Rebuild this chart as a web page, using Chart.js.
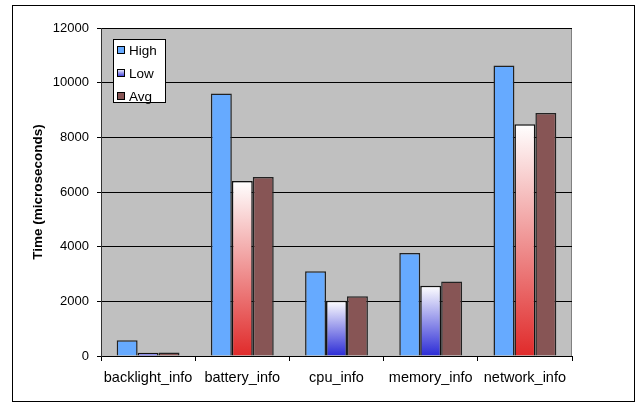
<!DOCTYPE html>
<html>
<head>
<meta charset="utf-8">
<script src="https://cdn.jsdelivr.net/npm/chart.js@4.4.1/dist/chart.umd.min.js"></script>
<style>
  html, body { margin: 0; padding: 0; background: #fff; }
  canvas { display: block; }
</style>
</head>
<body>
<canvas id="chart" width="638" height="404"></canvas>
<script>
const categories = ['backlight_info', 'battery_info', 'cpu_info', 'memory_info', 'network_info'];
const highValues = [580, 9600, 3100, 3770, 10630];
const lowValues = [120, 6400, 2020, 2570, 8480];
const avgValues = [130, 6550, 2190, 2730, 8890];
const yTicks = [0, 2000, 4000, 6000, 8000, 10000, 12000];

// bottom colour of each "Low" bar gradient
const lowShades = ['#2b2bd6', '#e02a2a', '#2b2bd6', '#2b2bd6', '#e02a2a'];

const FONT = "'Liberation Sans', Arial, sans-serif";

function lowFill(context) {
    const chart = context.chart;
    const y = chart.scales.y;
    if (!chart.chartArea || !y || context.type !== 'data') {
        return '#9999ee';
    }
    const top = y.getPixelForValue(context.raw);
    const bottom = y.getPixelForValue(0);
    const g = chart.ctx.createLinearGradient(0, top, 0, bottom);
    g.addColorStop(0, '#ffffff');
    g.addColorStop(1, lowShades[context.dataIndex]);
    return g;
}

const framePlugin = {
    id: 'frame',
    beforeDraw(chart) {
        const c = chart.ctx;
        const a = chart.chartArea;
        c.save();
        c.fillStyle = '#ffffff';
        c.fillRect(0, 0, chart.width, chart.height);
        c.strokeStyle = '#000000';
        c.lineWidth = 1;
        c.strokeRect(12.5, 5.5, 622, 396);
        c.fillStyle = '#c0c0c0';
        c.fillRect(a.left, a.top, a.right - a.left, a.bottom - a.top);
        c.strokeStyle = '#808080';
        c.beginPath();
        c.moveTo(a.left, a.top + 0.5);
        c.lineTo(a.right - 0.5, a.top + 0.5);
        c.lineTo(a.right - 0.5, a.bottom);
        c.stroke();
        c.restore();
    },
    afterDraw(chart) {
        // legend box inside the plot, Excel style
        const c = chart.ctx;
        const x0 = 113, y0 = 39, w = 52, h = 63;
        c.save();
        c.fillStyle = '#ffffff';
        c.fillRect(x0, y0, w, h);
        c.strokeStyle = '#000000';
        c.lineWidth = 1;
        c.strokeRect(x0 + 0.5, y0 + 0.5, w, h);
        c.font = '13.5px ' + FONT;
        c.textBaseline = 'middle';
        chart.data.datasets.forEach(function (ds, i) {
            const cy = y0 + 11 + i * 23;
            let fill = ds.legendColor;
            if (i === 1) {
                const g = c.createLinearGradient(0, cy - 4, 0, cy + 4);
                g.addColorStop(0, '#ffffff');
                g.addColorStop(1, '#2b2bd6');
                fill = g;
            }
            c.fillStyle = fill;
            c.fillRect(x0 + 4, cy - 4, 8, 8);
            c.strokeStyle = '#000000';
            c.strokeRect(x0 + 4.5, cy - 3.5, 7, 7);
            c.fillStyle = '#000000';
            c.fillText(ds.label, x0 + 16, cy + 1);
        });
        c.restore();
    }
};

new Chart(document.getElementById('chart'), {
    type: 'bar',
    data: {
        labels: categories,
        datasets: [
            {
                label: 'High',
                data: highValues,
                backgroundColor: '#66aaff',
                legendColor: '#66aaff',
                borderColor: '#222222',
                borderWidth: 1.5
            },
            {
                label: 'Low',
                data: lowValues,
                backgroundColor: lowFill,
                legendColor: '#9999ee',
                borderColor: '#111111',
                borderWidth: 1.5
            },
            {
                label: 'Avg',
                data: avgValues,
                backgroundColor: '#875555',
                legendColor: '#875555',
                borderColor: '#222222',
                borderWidth: 1.5
            }
        ]
    },
    plugins: [framePlugin],
    options: {
        responsive: false,
        animation: false,
        devicePixelRatio: 1,
        layout: {
            padding: { left: 0, top: 28, right: 66, bottom: 0 }
        },
        datasets: {
            bar: {
                categoryPercentage: 0.667,
                barPercentage: 1
            }
        },
        plugins: {
            legend: { display: false },
            tooltip: { enabled: false }
        },
        scales: {
            x: {
                afterFit: function (scale) { scale.height = 48; },
                grid: {
                    offset: true,
                    drawOnChartArea: false,
                    drawTicks: true,
                    tickLength: 5,
                    color: '#000000'
                },
                border: { display: true, color: '#000000' },
                ticks: {
                    color: '#000000',
                    padding: 8,
                    maxRotation: 0,
                    font: { family: FONT, size: 14.5 }
                }
            },
            y: {
                min: 0,
                max: 12000,
                afterFit: function (scale) { scale.width = 101; },
                afterBuildTicks: function (scale) {
                    scale.ticks = yTicks.map(function (v) { return { value: v }; });
                },
                grid: {
                    color: '#000000',
                    tickLength: 4
                },
                border: { display: true, color: '#333333' },
                ticks: {
                    color: '#000000',
                    padding: 8,
                    font: { family: FONT, size: 13 },
                    callback: function (value) { return String(value); }
                },
                title: {
                    display: true,
                    text: 'Time (microseconds)',
                    color: '#000000',
                    padding: { top: 30, bottom: 0 },
                    font: { family: FONT, size: 13.5, weight: 'bold' }
                }
            }
        }
    }
});
</script>
</body>
</html>
